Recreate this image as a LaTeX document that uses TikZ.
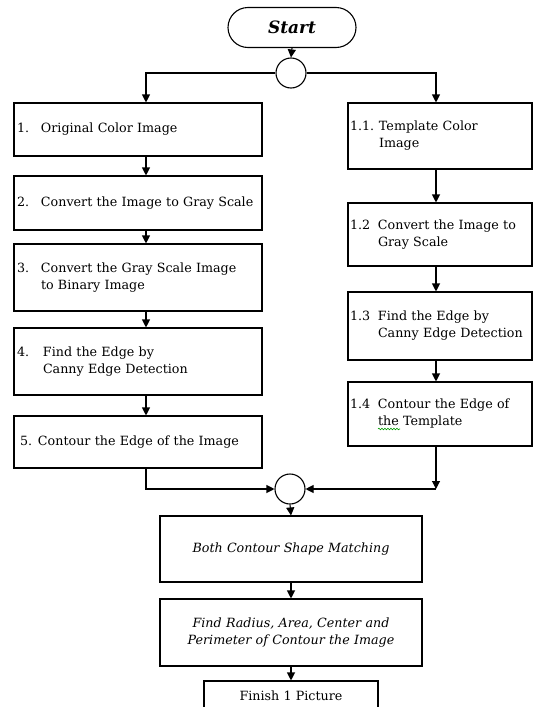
\documentclass[tikz,border=0pt]{standalone}
\usepackage{fontspec}
\setmainfont{DejaVu Serif}
\usetikzlibrary{arrows.meta,decorations.pathmorphing}
\tikzset{stepfont/.style={font=\fontsize{12.7}{17}\selectfont},
  leftbox/.style={draw=black, line width=1.1pt, rectangle, stepfont,
    inner xsep=3pt, inner ysep=0pt, text width=242pt, align=left},
  rightbox/.style={leftbox, text width=180pt, inner xsep=2pt},
  midbox/.style={draw=black, line width=1.1pt, rectangle, stepfont,
    inner sep=0pt, text width=262pt, align=center},
  joint/.style={draw=black, line width=1.1pt, circle, minimum size=30pt, inner sep=0pt},
  terminal/.style={draw=black, line width=1.1pt, rectangle, rounded corners=20pt,
    minimum width=128pt, minimum height=40pt, font=\fontsize{17}{20}\bfseries\itshape},
  arr/.style={-{Triangle[length=8pt,width=8pt]}, line width=1.1pt}}
\newcommand{\oneline}[3]{\begin{tabular}{@{}p{#1}@{}l@{}}#2&#3\end{tabular}}
\newcommand{\twolines}[4]{\begin{tabular}{@{}p{#1}@{}l@{}}#2&#3\\&#4\end{tabular}}

\begin{document}
\begin{tikzpicture}[x=1pt,y=-1pt]
	\useasboundingbox (0,0) rectangle (533,707);
\coordinate (lx) at (146,0);
\coordinate (rx) at (436,0);

\node[terminal] (start) at (292,27.5) {Start};
\node[joint] (split) at (291,73) {};

% image column
\node[leftbox, minimum height=53pt] (img1) at (138,129.5) {\oneline{24pt}{1.}{Original Color Image}};
\node[leftbox, minimum height=54pt] (img2) at (138,203) {\oneline{24pt}{2.}{Convert the Image to Gray Scale}};
\node[leftbox, minimum height=67pt] (img3) at (138,277.5) {\twolines{24pt}{3.}{Convert the Gray Scale Image}{to Binary Image}};
\node[leftbox, minimum height=67pt] (img4) at (138,361.5) {\twolines{26pt}{4.}{Find the Edge by}{Canny Edge Detection}};
\node[leftbox, minimum height=52pt] (img5) at (138,442) {\oneline{21pt}{\hspace*{3pt}5.}{Contour the Edge of the Image}};

% template column
\node[rightbox, minimum height=66pt] (tpl1) at (440,136) {\twolines{29pt}{1.1.}{Template Color}{Image}};
\node[rightbox, minimum height=63pt] (tpl2) at (440,234.5) {\twolines{28pt}{1.2}{Convert the Image to}{Gray Scale}};
\node[rightbox, minimum height=68pt] (tpl3) at (440,326) {\twolines{28pt}{1.3}{Find the Edge by}{Canny Edge Detection}};
\node[rightbox, minimum height=64pt] (tpl4) at (440,414) {\twolines{28pt}{1.4}{Contour the Edge of}{the Template}};

\node[joint] (merge) at (290,489) {};
\node[midbox, minimum height=66pt] (match) at (291,549) {\itshape Both Contour Shape Matching};
\node[midbox, minimum height=67pt] (measure) at (291,632.5) {\itshape Find Radius, Area, Center and\\ \itshape Perimeter of Contour the Image};
\node[midbox, text width=174pt, minimum height=30pt] (finish) at (291,696) {Finish 1 Picture};

\draw[arr] (start.south) -- (split.north);
\draw[arr] (split.west) -| (img1.north -| lx);
\draw[arr] (split.east) -| (tpl1.north -| rx);

\draw[arr] (img1.south -| lx) -- (img2.north -| lx);
\draw[arr] (img2.south -| lx) -- (img3.north -| lx);
\draw[arr] (img3.south -| lx) -- (img4.north -| lx);
\draw[arr] (img4.south -| lx) -- (img5.north -| lx);
\draw[arr] (img5.south -| lx) |- (merge.west);

\draw[arr] (tpl1.south -| rx) -- (tpl2.north -| rx);
\draw[arr] (tpl2.south -| rx) -- (tpl3.north -| rx);
\draw[arr] (tpl3.south -| rx) -- (tpl4.north -| rx);
\coordinate (corner) at (merge -| rx);
\draw[arr] (tpl4.south -| rx) -- (corner);
\draw[arr] (corner) -- (merge.east);

\draw[arr] (merge.south) -- (match.north);
\draw[arr] (match.south) -- (measure.north);
\draw[arr] (measure.south) -- (finish.north);

% spelling mark under "the"
\draw[green!60!black, line width=0.6pt, decorate,
  decoration={snake, amplitude=0.8pt, segment length=3pt}] (378,429) -- (400,429);
\end{tikzpicture}
\end{document}
